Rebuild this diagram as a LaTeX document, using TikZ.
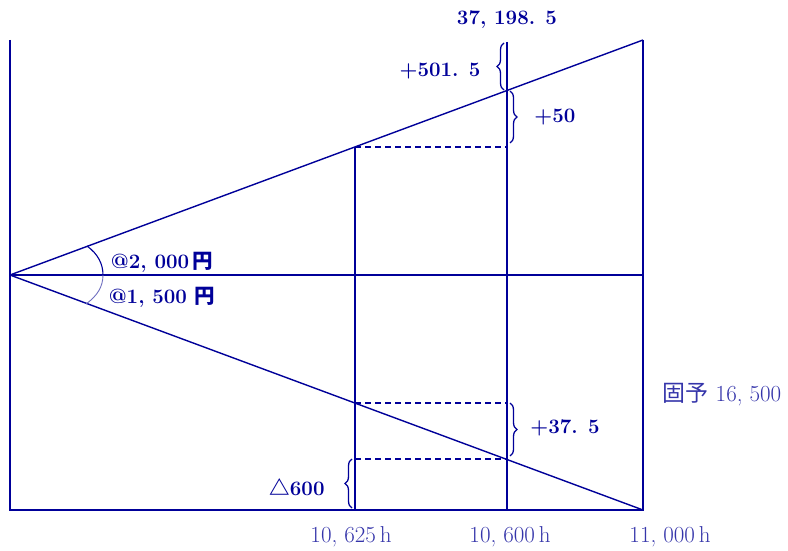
\documentclass[tikz,border=0pt]{standalone}
\usepackage{fontspec}
\newfontfamily\jpfont{Noto Sans CJK JP}
\usetikzlibrary{decorations.pathreplacing}
\definecolor{lnNavy}{HTML}{000099}
\definecolor{txLight}{HTML}{3535AA}
\definecolor{arcLight}{HTML}{6F6FC0}

\tikzset{
  ln/.style={line width=1.4bp, color=lnNavy},
  dashln/.style={ln, dash pattern=on 6bp off 4bp},
  brc/.style={ln, line width=1.3bp, decorate, decoration={brace, amplitude=7bp}},
  darklbl/.style={inner sep=0, text=lnNavy, font=\fontsize{20.5bp}{24bp}\selectfont\bfseries},
  lightlbl/.style={inner sep=0, text=txLight, font=\fontsize{23bp}{27bp}\selectfont},
}

\begin{document}
\begin{tikzpicture}[x=1bp, y=-1bp]
\path[use as bounding box, fill=white] (0,0) rectangle (788,551);

% frame points
\coordinate (o)   at (10,275);
\coordinate (tl)  at (10,40);
\coordinate (bl)  at (10,510);
\coordinate (tr)  at (643,40);
\coordinate (mr)  at (643,275);
\coordinate (br)  at (643,510);
% hours 10,625 and 10,600
\coordinate (p1t) at (355,147);
\coordinate (p1b) at (355,510);
\coordinate (p2t) at (507,42);
\coordinate (p2b) at (507,510);
\coordinate (u1)  at (507,147);
\coordinate (l1)  at (355,403);
\coordinate (m1)  at (507,403);
\coordinate (l2)  at (507,459);
\coordinate (m2)  at (355,459);

% frame
\draw[ln] (tl) -- (bl) -- (br) -- (tr);
\draw[ln] (o) -- (mr);
\draw[ln] (o) -- (tr);
\draw[ln] (o) -- (br);
\draw[ln] (p1t) -- (p1b);
\draw[ln] (p2t) -- (p2b);

% dashed levels
\draw[dashln] (p1t) -- (u1);
\draw[dashln] (l1) -- (m1);
\draw[dashln] (m2) -- (l2);

% angle marks
\draw[ln, line width=1.1bp] (87,246) .. controls (98,254) and (103,264) .. (103,275);
\draw[arcLight, line width=0.9bp] (103,275) .. controls (103,287) and (97,296) .. (86,304);

% braces
\draw[brc] (504,90) -- (504,43);
\draw[brc] (510,91) -- (510,143);
\draw[brc] (510,403) -- (510,456);
\draw[brc] (352,508) -- (352,459);

% labels
\node[darklbl] (tot) at (507,20) {37, 198. 5};
\node[darklbl] (d501) at (440,71) {+501. 5};
\node[darklbl] (d50) at (555,117) {+50};
\node[darklbl] (r2000) at (162,262) {@2, 000\,{\jpfont 円}};
\node[darklbl] (r1500) at (162,297) {@1, 500 {\jpfont 円}};
\node[darklbl] (d375) at (565,428) {+37. 5};
\node[darklbl] (d600) at (297,487) {{\jpfont △}600};
\node[lightlbl] (fix) at (722,395) {{\jpfont 固予} 16, 500};
\node[lightlbl] (h1) at (351,537) {10, 625\,h};
\node[lightlbl] (h2) at (510,537) {10, 600\,h};
\node[lightlbl] (h3) at (670,537) {11, 000\,h};
\end{tikzpicture}
\end{document}
